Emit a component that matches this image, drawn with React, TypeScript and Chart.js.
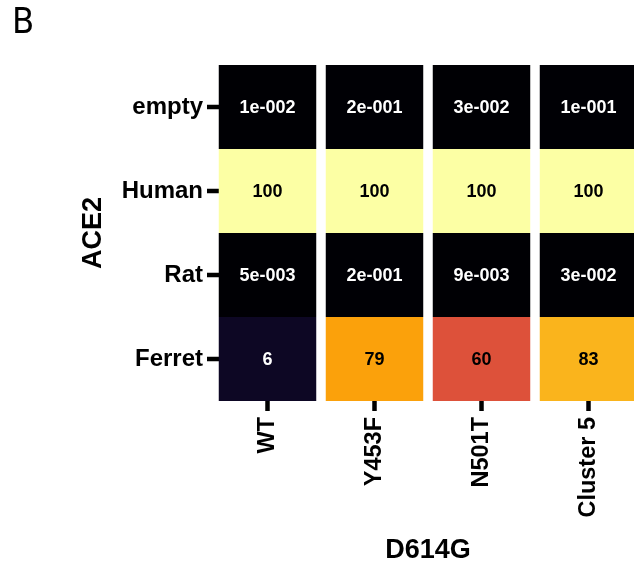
import React, { useEffect, useRef } from "react";
import { Chart, registerables } from "chart.js";

Chart.register(...registerables);

const columns = ["WT", "Y453F", "N501T", "Cluster 5"];
const rows = ["empty", "Human", "Rat", "Ferret"];
const emptyValues = [0.01, 0.2, 0.03, 0.1];
const humanValues = [100, 100, 100, 100];
const ratValues = [0.005, 0.2, 0.009, 0.03];
const ferretValues = [6, 79, 60, 83];
const rowValues = [emptyValues, humanValues, ratValues, ferretValues];
const xTitle = "D614G";
const yTitle = "ACE2";
const panelLabel = "B";

const inferno = [
  [0, 0, 4], [22, 11, 57], [66, 10, 104], [106, 23, 110], [147, 38, 103],
  [188, 55, 84], [221, 81, 58], [243, 120, 25], [252, 165, 10], [246, 215, 70], [252, 255, 164],
];

function infernoColor(v: number) {
  const t = Math.max(0, Math.min(1, v / 100)) * (inferno.length - 1);
  const i = Math.min(inferno.length - 2, Math.floor(t));
  const f = t - i;
  const c = inferno[i].map((a, k) => Math.round(a + (inferno[i + 1][k] - a) * f));
  return `rgb(${c[0]},${c[1]},${c[2]})`;
}

function formatValue(v: number) {
  if (v >= 1) return String(Math.round(v));
  return v.toExponential(0).replace(/e([+-])(\d+)/, (_m, s, d) => "e" + s + d.padStart(3, "0"));
}

const FONT = "'Liberation Sans', Arial, Helvetica, sans-serif";

const yTickMarks = {
  id: "yTickMarks",
  beforeDatasetsDraw(chart: any) {
    const y = chart.scales.y;
    const { ctx, chartArea } = chart;
    ctx.save();
    ctx.fillStyle = "#000";
    y.ticks.forEach((t: any) => {
      const py = y.getPixelForValue(t.value);
      ctx.fillRect(chartArea.left - 7, py - 2.25, 12, 4.5);
    });
    ctx.restore();
  },
};

const cellLabels = {
  id: "cellLabels",
  afterDatasetsDraw(chart: any) {
    const { ctx } = chart;
    ctx.save();
    ctx.font = `bold 18px ${FONT}`;
    ctx.textAlign = "center";
    ctx.textBaseline = "middle";
    chart.data.datasets.forEach((ds: any, di: number) => {
      const meta = chart.getDatasetMeta(di);
      meta.data.forEach((el: any, i: number) => {
        const v = rowValues[di][i];
        const { x, y, base } = el.getProps(["x", "y", "base"], true);
        ctx.fillStyle = v < 50 ? "#ffffff" : "#000000";
        ctx.fillText(formatValue(v), x, (y + base) / 2 + 1.5);
      });
    });
    ctx.restore();
  },
};

export default function App() {
  const ref = useRef<HTMLCanvasElement>(null);
  useEffect(() => {
    if (!ref.current) return;
    const n = rows.length;
    const chart = new Chart(ref.current, {
      type: "bar",
      data: {
        labels: columns,
        datasets: rows.map((r, ri) => ({
          label: r,
          data: columns.map(() => [n - 1 - ri, n - ri] as [number, number]),
          backgroundColor: rowValues[ri].map(infernoColor),
          borderWidth: 0,
          grouped: false,
          barPercentage: 0.911,
          categoryPercentage: 1,
        })),
      },
      options: {
        animation: false,
        responsive: false,
        layout: { padding: { left: 12, right: 8, top: 0, bottom: 0 } },
        plugins: {
          legend: { display: false },
          tooltip: { enabled: false },
          title: {
            display: true,
            text: panelLabel,
            align: "start",
            color: "#000",
            font: { family: "'Liberation Sans Narrow', 'DejaVu Sans Condensed', 'Liberation Sans', Arial, sans-serif", size: 36, weight: "normal", lineHeight: 1 },
            padding: { top: 6, bottom: 23 },
          },
        },
        scales: {
          x: {
            type: "category",
            offset: true,
            grid: { display: true, drawOnChartArea: false, offset: false, tickLength: 10, tickWidth: 4.5, tickColor: "#000" },
            border: { display: false },
            ticks: {
              color: "#000",
              font: { family: FONT, size: 23.5, weight: "bold" },
              minRotation: 90,
              maxRotation: 90,
              padding: 6,
              autoSkip: false,
            },
            title: {
              display: true,
              text: xTitle,
              color: "#000",
              font: { family: FONT, size: 27, weight: "bold", lineHeight: 1 },
              padding: { top: 0, bottom: 0 },
            },
            afterFit: (s: any) => { s.height = 163; },
          },
          y: {
            type: "linear",
            min: 0,
            max: n,
            grid: { display: false, drawTicks: false },
            border: { display: false },
            afterBuildTicks: (s: any) => {
              s.ticks = rows.map((_r, i) => ({ value: n - 0.5 - i }));
            },
            ticks: {
              color: "#000",
              font: { family: FONT, size: 24, weight: "bold" },
              padding: 11,
              callback: (value: any) => rows[Math.round(n - 0.5 - Number(value))],
            },
            title: {
              display: true,
              text: yTitle,
              color: "#000",
              font: { family: FONT, size: 27, weight: "bold", lineHeight: 1 },
              padding: { top: 68.5, bottom: 0 },
            },
            afterFit: (s: any) => { s.width = 202; },
          },
        },
      },
      plugins: [yTickMarks, cellLabels],
    });
    return () => chart.destroy();
  }, []);
  return (
    <div style={{ position: "fixed", left: 0, top: 0, width: 634, height: 564, overflow: "hidden", background: "#fff" }}>
      <canvas ref={ref} width={650} height={564} style={{ display: "block" }} />
    </div>
  );
}
